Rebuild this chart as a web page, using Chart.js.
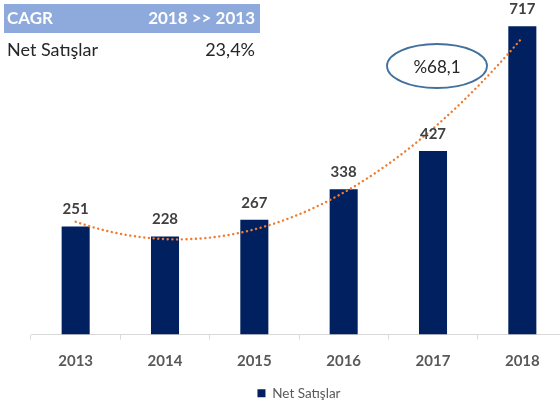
<!DOCTYPE html>
<html><head><meta charset="utf-8">
<script src="https://cdn.jsdelivr.net/npm/chart.js@4"></script>
<style>
html,body{margin:0;padding:0;overflow:hidden;background:#fff;width:560px;height:405px}
#wrap{position:absolute;left:0;top:0;width:598px;height:411px}
</style></head><body><div id="wrap"><canvas id="c"></canvas></div>
<script>
const categories = ['2013','2014','2015','2016','2017','2018'];
const netSales = [251,228,267,338,427,717];
const seriesName = 'Net Satışlar';
const cagrHeader = ['CAGR','2018 >> 2013'];
const cagrRow = ['Net Satışlar','23,4%'];
const calloutText = '%68,1';

const FONT = "Lato, 'Open Sans', sans-serif";

// least-squares quadratic trendline (as the spreadsheet's polynomial trendline)
function quadFit(ys){
  const n=ys.length; let S=[0,0,0,0,0], T=[0,0,0];
  for(let i=0;i<n;i++){const x=i; for(let k=0;k<5;k++) S[k]+=Math.pow(x,k); for(let k=0;k<3;k++) T[k]+=ys[i]*Math.pow(x,k);}
  const A=[[S[0],S[1],S[2],T[0]],[S[1],S[2],S[3],T[1]],[S[2],S[3],S[4],T[2]]];
  for(let c=0;c<3;c++){for(let r=c+1;r<3;r++){const f=A[r][c]/A[c][c];for(let k=c;k<4;k++)A[r][k]-=f*A[c][k];}}
  const s=[0,0,0];
  for(let r=2;r>=0;r--){let v=A[r][3];for(let k=r+1;k<3;k++)v-=A[r][k]*s[k];s[r]=v/A[r][r];}
  return s;
}

const overlay = {
  id:'overlay',
  afterDatasetsDraw(chart){
    const ctx=chart.ctx, xs=chart.scales.x, ys=chart.scales.y;
    // trendline
    const co=quadFit(netSales);
    ctx.save();
    ctx.strokeStyle='#ED7D31'; ctx.lineWidth=2.4; ctx.lineCap='round';
    ctx.setLineDash([0.1,4.6]);
    ctx.beginPath();
    for(let t=0;t<=netSales.length-1+1e-9;t+=0.02){
      const v=co[0]+co[1]*t+co[2]*t*t;
      const px=xs.getPixelForValue(t), py=ys.getPixelForValue(v);
      if(t===0) ctx.moveTo(px,py); else ctx.lineTo(px,py);
    }
    ctx.stroke();
    ctx.restore();
    // value labels
    const meta=chart.getDatasetMeta(0);
    ctx.save();
    ctx.fillStyle='#404040'; ctx.font="bold 15px "+FONT; ctx.textAlign='center'; ctx.textBaseline='middle';
    meta.data.forEach((b,i)=>{ ctx.fillText(String(netSales[i]), b.x, b.y-17); });
    ctx.restore();
    // CAGR table
    ctx.save();
    ctx.fillStyle='#8EA9DB'; ctx.fillRect(4,4,256,29);
    ctx.fillStyle='#FFFFFF'; ctx.font="bold 17px "+FONT; ctx.textBaseline='middle';
    ctx.textAlign='left'; ctx.fillText(cagrHeader[0],7,19);
    ctx.textAlign='right'; ctx.fillText(cagrHeader[1],255,19);
    ctx.fillStyle='#262626'; ctx.font="18px "+FONT;
    ctx.textAlign='left'; ctx.fillText(cagrRow[0],7,50);
    ctx.textAlign='right'; ctx.fillText(cagrRow[1],255,50);
    // callout ellipse
    ctx.beginPath(); ctx.ellipse(437,66,50,22,0,0,Math.PI*2);
    ctx.fillStyle='#FFFFFF'; ctx.fill();
    ctx.strokeStyle='#41719C'; ctx.lineWidth=1.8; ctx.setLineDash([]); ctx.stroke();
    ctx.fillStyle='#262626'; ctx.font="17px "+FONT; ctx.textAlign='center'; ctx.textBaseline='middle';
    ctx.fillText(calloutText,437,68);
    ctx.restore();
  }
};

new Chart(document.getElementById('c'),{
  type:'bar',
  data:{labels:categories,datasets:[{label:seriesName,data:netSales,backgroundColor:'#002060',borderWidth:0,categoryPercentage:1,barPercentage:0.314}]},
  options:{
    responsive:true, maintainAspectRatio:false, animation:false,
    layout:{padding:{left:31,right:31,top:12,bottom:1}},
    plugins:{
      legend:{position:'bottom',labels:{boxWidth:8,boxHeight:8,color:'#595959',font:{family:FONT,size:13.5},padding:3}},
      tooltip:{enabled:false}
    },
    scales:{
      x:{grid:{display:true,drawOnChartArea:false,drawTicks:true,tickLength:5,color:'#D9D9D9',offset:true},
         border:{display:true,color:'#D9D9D9',width:1},
         ticks:{color:'#595959',font:{family:FONT,size:15,weight:'bold'},padding:13}},
      y:{display:false,min:0,max:750}
    }
  },
  plugins:[overlay]
});
</script></body></html>
